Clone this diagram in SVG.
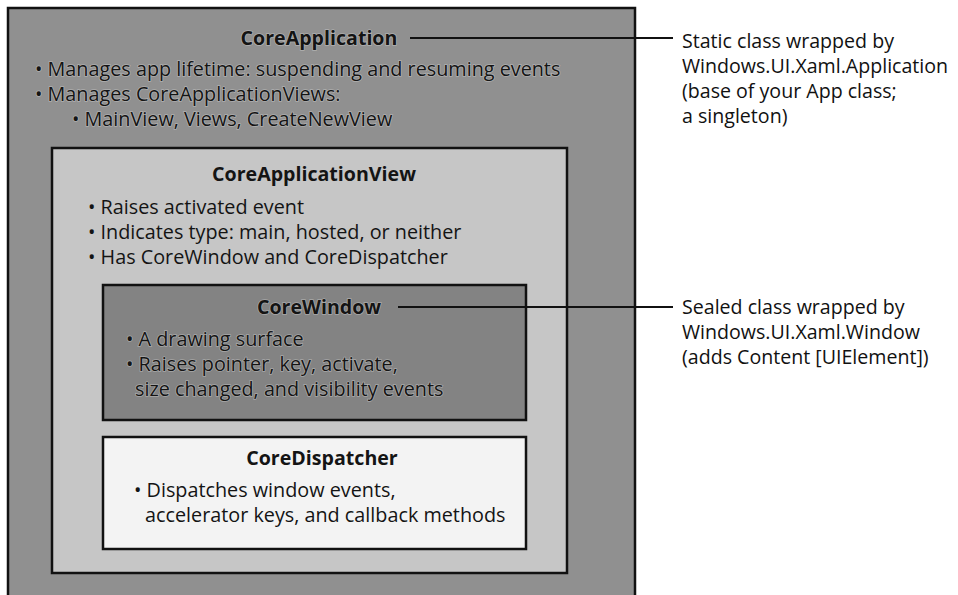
<svg xmlns="http://www.w3.org/2000/svg" width="958" height="595" viewBox="0 0 958 595">
  <style>
    .box { stroke: #111; stroke-width: 2.5; }
    .t { font-family: "Open Sans", "Noto Sans", "DejaVu Sans", sans-serif; font-size: 19.8px; fill: #141414; }
    .h { font-weight: bold; text-anchor: middle; font-size: 19.6px; }
    .dark { paint-order: stroke; stroke: #d8d8d8; stroke-width: 1.6; stroke-opacity: 0.45; }
    .note { font-family: "Open Sans", "Noto Sans", "DejaVu Sans", sans-serif; font-size: 19.6px; fill: #111; }
    .conn { stroke: #111; stroke-width: 2.2; fill: none; }
  </style>
  <rect width="958" height="595" fill="#ffffff"/>

  <!-- outermost object: the application -->
  <g id="core-application">
    <rect class="box" x="8" y="8" width="627" height="600" fill="#909090"/>
    <text class="t h dark" x="319" y="45">CoreApplication</text>
    <text class="t dark" x="35" y="76">• Manages app lifetime: suspending and resuming events</text>
    <text class="t dark" x="35" y="101">• Manages CoreApplicationViews:</text>
    <text class="t dark" x="72" y="126">• MainView, Views, CreateNewView</text>
  </g>

  <!-- a view owned by the application -->
  <g id="core-application-view">
    <rect class="box" x="52" y="148" width="515" height="425" fill="#c6c6c6"/>
    <text class="t h" x="314" y="181">CoreApplicationView</text>
    <text class="t" x="88" y="214">• Raises activated event</text>
    <text class="t" x="88" y="239">• Indicates type: main, hosted, or neither</text>
    <text class="t" x="88" y="264">• Has CoreWindow and CoreDispatcher</text>
  </g>

  <!-- the window of the view -->
  <g id="core-window">
    <rect class="box" x="103" y="285" width="423" height="135" fill="#838383"/>
    <text class="t h dark" x="319" y="314">CoreWindow</text>
    <text class="t dark" x="126" y="346">• A drawing surface</text>
    <text class="t dark" x="126" y="371">• Raises pointer, key, activate,</text>
    <text class="t dark" x="135" y="396">size changed, and visibility events</text>
  </g>

  <!-- the dispatcher of the view -->
  <g id="core-dispatcher">
    <rect class="box" x="103" y="437" width="423" height="112" fill="#f3f3f3"/>
    <text class="t h" x="322" y="465">CoreDispatcher</text>
    <text class="t" x="134" y="497">• Dispatches window events,</text>
    <text class="t" x="145" y="522">accelerator keys, and callback methods</text>
  </g>

  <!-- leader lines to the side notes -->
  <g id="connectors">
    <line class="conn" x1="410" y1="38" x2="673" y2="38"/>
    <line class="conn" x1="398" y1="307" x2="673" y2="307"/>
  </g>

  <g id="note-application">
    <text class="note" x="682" y="48">Static class wrapped by</text>
    <text class="note" x="682" y="73">Windows.UI.Xaml.Application</text>
    <text class="note" x="682" y="98">(base of your App class;</text>
    <text class="note" x="682" y="123">a singleton)</text>
  </g>

  <g id="note-window">
    <text class="note" x="682" y="314">Sealed class wrapped by</text>
    <text class="note" x="682" y="339">Windows.UI.Xaml.Window</text>
    <text class="note" x="682" y="364">(adds Content [UIElement])</text>
  </g>
</svg>
